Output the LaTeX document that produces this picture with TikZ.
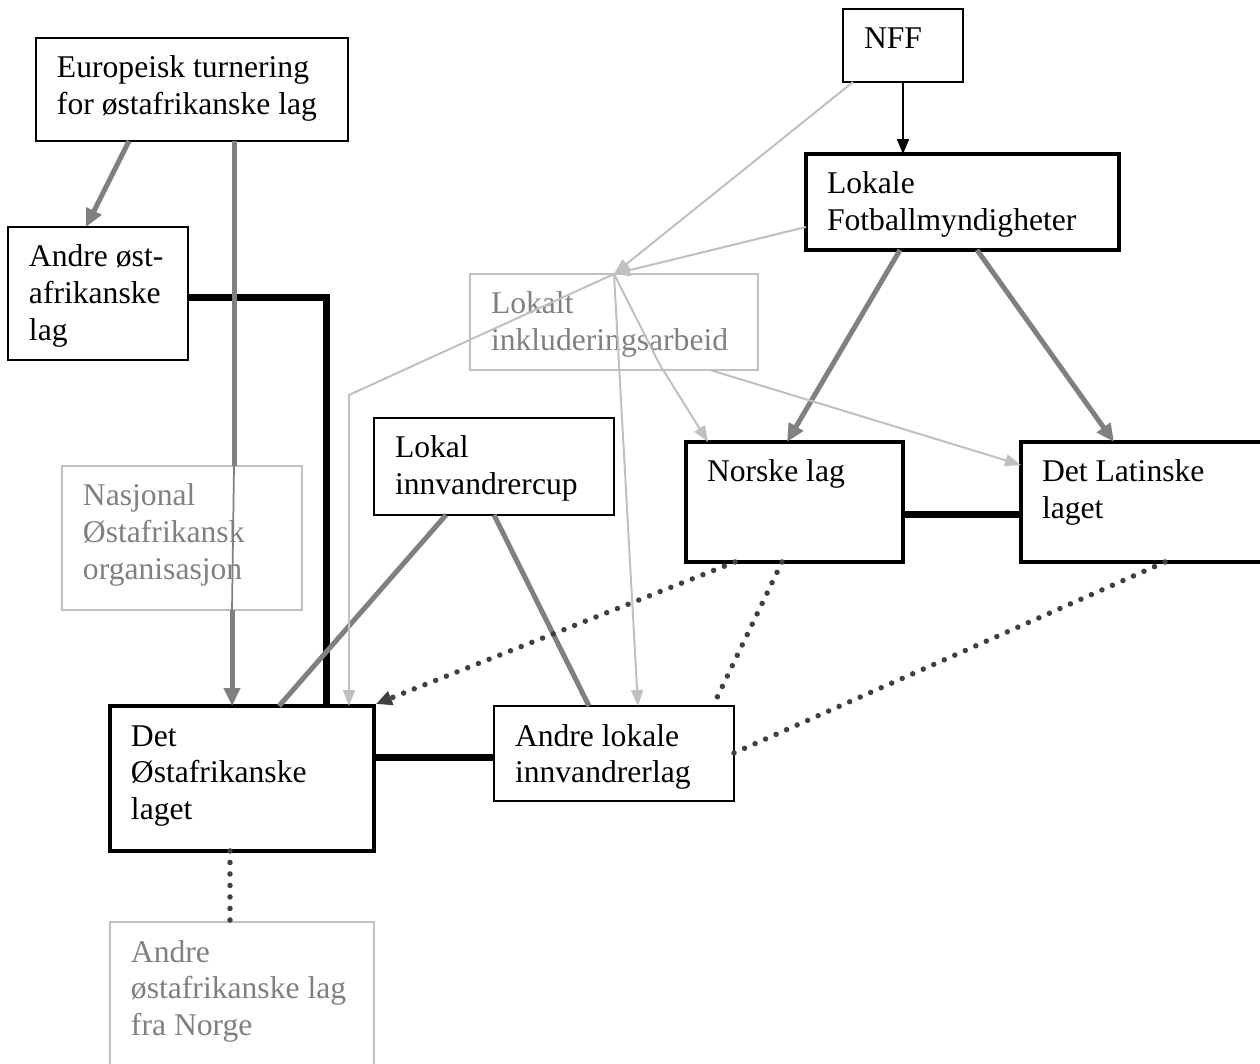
\documentclass[tikz,border=0pt]{standalone}
\usepackage{fontspec}
\setmainfont{Liberation Serif}
\usetikzlibrary{arrows.meta,calc}
\definecolor{midgrey}{HTML}{808080}
\definecolor{lightgrey}{HTML}{C0C0C0}
\definecolor{dotgrey}{HTML}{404040}
\newcommand{\bt}[3]{\parbox[c][#2][t]{#1}{\raggedright\leftskip=0.42cm\rule{0pt}{0.8cm}#3}}
\begin{document}
\begin{tikzpicture}[x=0.02cm,y=-0.02cm,
 every node/.style={font=\fontsize{18pt}{21pt}\selectfont, inner sep=0pt, outer sep=0pt, anchor=north west},
 thinbox/.style={draw=black, line width=0.035cm},
 thickbox/.style={draw=black, line width=0.09cm},
 greybox/.style={draw=lightgrey, line width=0.04cm, text=midgrey},
 greyarrow/.style={draw=midgrey, line width=0.1cm, -{Triangle[length=0.36cm,width=0.32cm]}},
 greyline/.style={draw=midgrey, line width=0.1cm},
 thingrey/.style={draw=midgrey, line width=0.035cm},
 lightarrow/.style={draw=lightgrey, line width=0.04cm, -{Triangle[length=0.32cm,width=0.24cm]}},
 blackarrow/.style={draw=black, line width=0.04cm, -{Triangle[length=0.3cm,width=0.24cm]}},
 blackline/.style={draw=black, line width=0.14cm},
 dotline/.style={draw=dotgrey, line width=0.11cm, line cap=round, dash pattern=on 0pt off 0.23cm},
]
\useasboundingbox (0,0) rectangle (1260,1064);
\clip (0,0) rectangle (1260,1064);

% boxes
\node[thinbox] (eur) at (36,38) {\bt{6.24cm}{2.06cm}{Europeisk turnering\\for østafrikanske lag}};
\node[thinbox] (ando) at (8,227) {\bt{3.60cm}{2.66cm}{Andre øst-\\afrikanske\\lag}};
\node[thinbox] (nff) at (843,9) {\bt{2.40cm}{1.46cm}{NFF}};
\node[thickbox] (lfm) at (806,154) {\bt{6.26cm}{1.92cm}{Lokale\\Fotballmyndigheter}};
\node[greybox] (lia) at (470,274) {\bt{5.76cm}{1.92cm}{Lokalt\\inkluderingsarbeid}};
\node[greybox] (nasj) at (62,466) {\bt{4.80cm}{2.88cm}{Nasjonal\\Østafrikansk\\organisasjon}};
\node[thinbox] (lic) at (374,418) {\bt{4.80cm}{1.94cm}{Lokal\\innvandrercup}};
\node[thickbox] (nor) at (686,442) {\bt{4.34cm}{2.40cm}{Norske lag}};
\node[thickbox] (lat) at (1021,442) {\bt{5.20cm}{2.40cm}{Det Latinske\\laget}};
\node[thickbox] (dost) at (110,706) {\bt{5.28cm}{2.90cm}{Det\\Østafrikanske\\laget}};
\node[thinbox] (alok) at (494,706) {\bt{4.80cm}{1.90cm}{Andre lokale\\innvandrerlag}};
\node[greybox] (aofn) at (110,922) {\bt{5.28cm}{3.20cm}{Andre\\østafrikanske lag\\fra Norge}};

\coordinate (P) at ($(lia.north west)+(144,0)$);

% thick black links
\draw[blackline] ($(ando.north east)+(0,70)$) -| ($(dost.north west)+(216,0)$);
\draw[blackline] ($(dost.north east)+(0,51)$) -- ($(alok.north west)+(0,51)$);
\draw[blackline] ($(nor.north east)+(0,72)$) -- ($(lat.north west)+(0,72)$);

% grey arrows and lines
\draw[greyarrow] ($(eur.south west)+(93,0)$) -- ($(ando.north west)+(78,0)$);
\draw[greyline] ($(eur.south west)+(198,0)$) -- ($(nasj.north west)+(172,0)$);
\draw[thingrey] ($(nasj.north west)+(172,0)$) -- ($(nasj.south west)+(170,0)$);
\draw[greyarrow] ($(nasj.south west)+(170,0)$) -- ($(dost.north west)+(122,0)$);
\draw[greyarrow] ($(lfm.south west)+(94,0)$) -- ($(nor.north west)+(101,0)$);
\draw[greyarrow] ($(lfm.south west)+(171,0)$) -- ($(lat.north west)+(93,0)$);
\draw[greyline] ($(lic.south west)+(72,0)$) -- ($(dost.north west)+(169,0)$);
\draw[greyline] ($(lic.south west)+(120,0)$) -- ($(alok.north west)+(95,0)$);

% black arrow
\draw[blackarrow] (nff.south) -- (nff.south |- lfm.north);

% light grey arrows
\draw[lightarrow] ($(nff.south west)+(10,0)$) -- (P);
\draw[lightarrow] ($(lfm.north west)+(0,73)$) -- (P);
\draw[lightarrow] (P) -- ($(dost.north west)+(239,-311)$) -- ($(dost.north west)+(239,0)$);
\draw[lightarrow] (P) -- ($(alok.north west)+(144,0)$);
\draw[lightarrow] (P) -- ++(46,91) -- ($(nor.north west)+(22,0)$);
\draw[lightarrow] ($(lia.south west)+(240,0)$) -- ($(lat.north west)+(0,23)$);

% dotted links
\draw[dotline, -{Triangle[length=0.32cm,width=0.28cm]}] ($(nor.south west)+(49,0)$) -- ($(dost.north east)+(2,-2)$);
\draw[dotline] ($(nor.south west)+(96,0)$) -- ($(alok.north west)+(219,0)$);
\draw[dotline] ($(lat.south west)+(144,0)$) -- ($(alok.north east)+(0,47)$);
\draw[dotline] ($(dost.south west)+(120,0)$) -- ($(aofn.north west)+(120,0)$);
\end{tikzpicture}
\end{document}
